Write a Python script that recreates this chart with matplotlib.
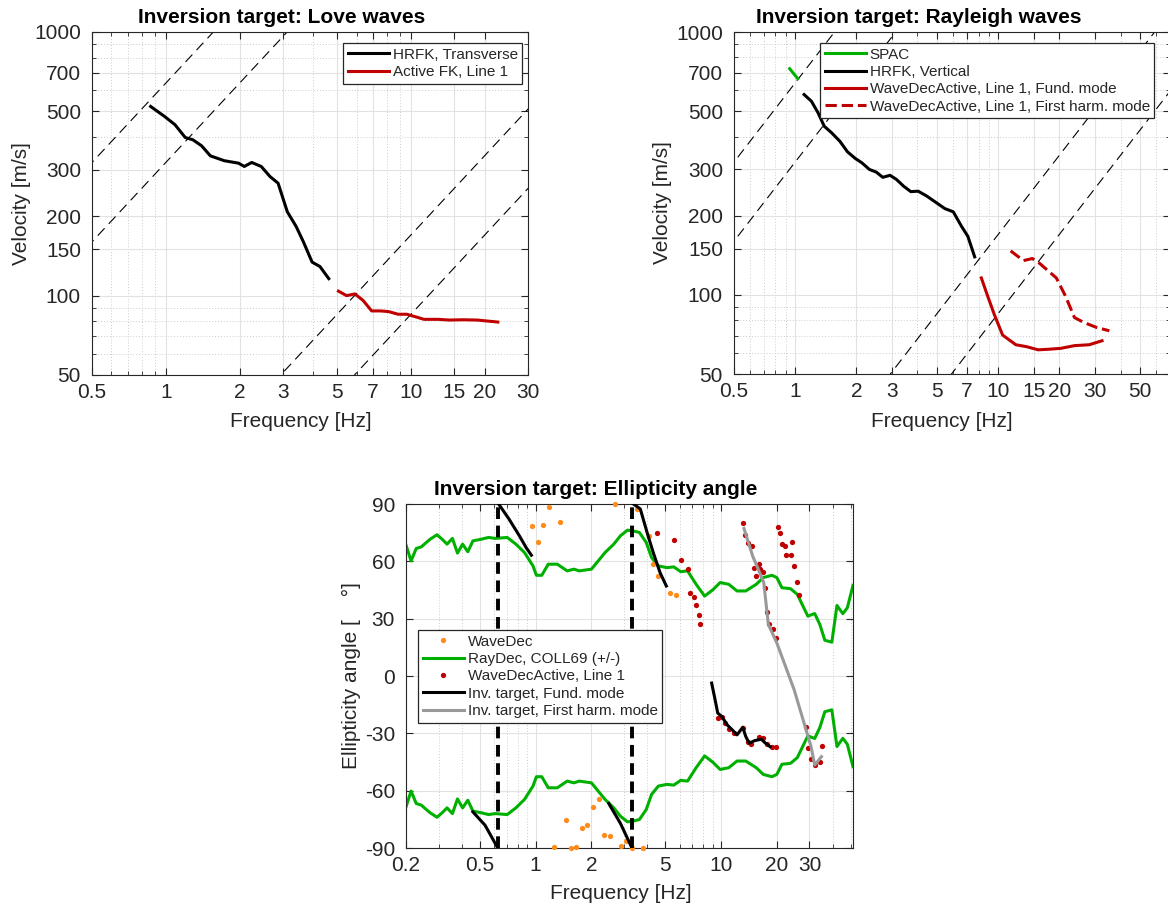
import numpy as np
import matplotlib
matplotlib.use("Agg")
import matplotlib.pyplot as plt
from matplotlib.ticker import FixedLocator, FuncFormatter, NullFormatter

plt.rcParams['font.family'] = ['Liberation Sans', 'DejaVu Sans']

GREEN = '#00b000'
RED = '#c00000'
ORANGE = '#ff8c1a'
GREY = '#999999'
AXCOL = '#262626'

# array wavelength limits [m], plotted as v = lambda * f
wavelengths = [640, 320, 17, 8.5]

# Love waves
love_hrfk_f = [0.867, 0.989, 1.09, 1.20, 1.29, 1.40, 1.52, 1.73, 1.98, 2.09,
               2.24, 2.45, 2.66, 2.87, 3.13, 3.40, 3.64, 3.95, 4.25, 4.62]
love_hrfk_v = [522, 478, 445, 398, 390, 370, 339, 325, 318, 309,
               320, 309, 283, 267, 208, 183, 160, 134, 129, 116]
love_fk_f = [5.06, 5.46, 5.90, 6.37, 6.91, 7.51, 8.10, 8.86, 9.61, 10.4,
             11.3, 12.9, 14.3, 16.3, 18.6, 22.6]
love_fk_v = [104, 100, 101.5, 96, 87.5, 87.5, 87, 85, 85, 83.2,
             81.3, 81.3, 80.8, 81, 80.8, 79.4]

# Rayleigh waves
spac_f = [0.94, 0.99, 1.03]
spac_v = [725, 690, 665]
ray_hrfk_f = [1.107, 1.203, 1.296, 1.39, 1.51, 1.66, 1.81, 1.98, 2.13, 2.32,
              2.51, 2.70, 2.93, 3.15, 3.42, 3.71, 4.03, 4.43, 4.92, 5.45,
              6.00, 6.57, 7.08, 7.65]
ray_hrfk_v = [578, 545, 493, 438, 414, 384, 350, 330, 318, 300,
              293, 280, 285, 275, 259, 247, 248, 238, 225, 213,
              207, 183, 167, 139.5]
wda_fund_f = [8.25, 8.86, 9.54, 10.5, 12.2, 13.8, 15.7, 17.7, 20.3, 23.7, 28.0, 32.4]
wda_fund_v = [116, 99, 84.5, 70.3, 64.6, 63.5, 61.8, 62.1, 62.6, 64.1, 64.6, 66.9]
wda_harm_f = [11.5, 13.3, 14.7, 16.0, 19.3, 21.4, 23.7, 26.3, 30.4, 35.2]
wda_harm_v = [147, 135, 137.5, 131.6, 116, 99, 82, 78.6, 75.2, 73]

# Ellipticity angle
raydec_f = [0.200, 0.213, 0.227, 0.242, 0.270, 0.294, 0.313, 0.333, 0.356, 0.379,
            0.404, 0.431, 0.459, 0.511, 0.557, 0.606, 0.703, 0.783, 0.871, 0.968,
            1.01, 1.08, 1.17, 1.31, 1.48, 1.61, 1.72, 2.00, 2.37, 2.64,
            2.87, 3.13, 3.33, 3.63, 3.95, 4.22, 4.59, 5.11, 5.56, 6.06,
            6.60, 7.34, 8.16, 9.08, 9.89, 11.0, 12.2, 13.6, 15.5, 16.9,
            18.8, 20.0, 21.3, 23.7, 25.8, 29.4, 32.0, 34.1, 36.3, 39.6,
            42.2, 45.4, 48.0, 51.5]
raydec_a = [68.5, 60.2, 66.7, 67.6, 71.6, 73.9, 71.6, 69.0, 72.0, 64.3,
            69.0, 65.0, 70.7, 71.6, 72.5, 72.0, 72.5, 69.0, 64.6, 57.6,
            52.7, 52.7, 58.5, 58.5, 55.0, 55.9, 55.0, 55.9, 64.6, 69.0,
            73.4, 76.3, 76.0, 75.1, 69.9, 62.0, 57.6, 56.7, 57.1, 54.6,
            55.0, 48.0, 41.8, 45.3, 48.9, 48.0, 44.5, 44.5, 48.0, 51.5,
            52.7, 51.5, 46.2, 45.7, 42.7, 31.3, 32.7, 27.0, 18.7, 17.7,
            36.9, 32.6, 35.7, 47.4]
wavedec_f = [0.96, 1.03, 1.10, 1.18, 1.35, 2.67, 3.53, 4.10, 4.31, 4.55,
             5.33, 5.69, 1.26, 1.45, 1.55, 1.65, 1.78, 1.90, 2.04, 2.20,
             2.34, 2.51, 2.87, 3.06, 3.31, 3.79]
wavedec_a = [78.6, 70.2, 79.1, 88.6, 80.7, 90, 87.4, 73.4, 58.8, 52.4,
             43.6, 42.2, -89.5, -75.1, -90, -89.5, -79.5, -78.1, -68.5, -64.1,
             -83.3, -83.9, -89.1, -86.5, -90, -90]
wdact_f = [4.50, 5.56, 6.06, 6.60, 6.83, 7.13, 7.34, 7.57, 7.73,
           13.1, 13.5, 13.9, 14.7, 15.0, 15.5, 16.0, 16.3, 16.9, 17.2,
           17.6, 18.1, 19.1, 19.7, 20.2, 20.7, 21.3, 22.0, 22.5,
           23.7, 24.2, 24.9, 25.6, 26.4, 9.68, 10.1, 10.5, 11.0, 11.7,
           13.1, 13.9, 14.5, 16.1, 16.9, 17.6, 18.8, 19.8,
           28.7, 29.4, 30.6, 32.0, 34.1, 35.1]
wdact_a = [74.6, 71.1, 60.6, 56.2, 43.6, 41.3, 37.1, 31.9, 27.0,
           79.8, 73.7, 69.5, 67.8, 56.4, 52.4, 58.8, 55.9, 54.6, 45.9,
           33.4, 27.0, 24.7, 20.0, 78.1, 74.6, 69.0, 68.1, 63.2,
           63.2, 69.9, 57.6, 49.4, 42.4, -22.1, -21.2, -24.7, -27.8, -29.9,
           -27.0, -34.3, -35.7, -31.7, -32.6, -35.5, -37.0, -37.3,
           -26.8, -37.8, -43.6, -46.6, -45.2, -36.6]
nan = np.nan
fund_f = [0.459, 0.534, 0.625, nan, 0.632, 0.719, 0.817, 0.889, 0.949, nan,
          2.48, 2.87, 3.31, nan, 3.37, 3.67, 4.04, 4.31, 4.69, 5.07, nan,
          8.90, 9.29, 9.60, 10.1, 10.8, 11.5, 12.2, 13.1, 13.6, 14.2,
          15.2, 16.5, 17.2, 18.4]
fund_a = [-71.1, -78.1, -90, nan, 90, 82.1, 73.4, 67.2, 63.2, nan,
          -66.7, -77.2, -90, nan, 90, 87.4, 73.4, 64.6, 54.1, 47.1, nan,
          -3.7, -12.4, -19.4, -21.2, -25.6, -28.2, -30.8, -26.8, -31.7, -35.2,
          -33.8, -33.1, -34.8, -37.0]
harm_f = [13.3, 14.8, 17.0, 18.0, 20.0, 24.8, 30.6, 32.0, 34.8]
harm_a = [77.2, 62.9, 48.9, 27.0, 17.3, -7.2, -37.0, -46.6, -42.2]
singular_f = [0.625, 3.33]


def style_axes(ax, xmaj, xmin, ymaj, ymin=None, logy=True):
    ax.set_xscale('log')
    if logy:
        ax.set_yscale('log')
    fmt = FuncFormatter(lambda v, _: f'{v:g}')
    ax.xaxis.set_major_locator(FixedLocator(xmaj))
    ax.xaxis.set_minor_locator(FixedLocator(xmin))
    ax.xaxis.set_major_formatter(fmt)
    ax.xaxis.set_minor_formatter(NullFormatter())
    ax.yaxis.set_major_locator(FixedLocator(ymaj))
    ax.yaxis.set_major_formatter(fmt)
    if ymin is not None:
        ax.yaxis.set_minor_locator(FixedLocator(ymin))
        ax.yaxis.set_minor_formatter(NullFormatter())
    else:
        ax.yaxis.set_minor_locator(FixedLocator([]))
    ax.tick_params(which='both', direction='in', top=True, right=True,
                   color=AXCOL, labelcolor=AXCOL, labelsize=15)
    ax.tick_params(which='major', length=5, width=0.8)
    ax.tick_params(which='minor', length=3, width=0.6)
    ax.tick_params(axis='x', pad=6)
    ax.tick_params(axis='y', pad=8)
    ax.grid(which='major', color='#e2e2e2', lw=0.8, ls='-')
    ax.grid(which='minor', color='#cccccc', lw=0.7, ls=(0, (1, 2)))
    ax.set_axisbelow(True)
    for s in ax.spines.values():
        s.set_color(AXCOL)
        s.set_linewidth(0.8)


def wavelength_lines(ax):
    f = np.array([0.05, 500.0])
    for lam in wavelengths:
        ax.plot(f, lam * f, color='black', lw=0.8, dashes=(9, 5.5), zorder=2)


def legend_at(ax, fig, x, y, **kw):
    leg = ax.legend(loc='upper left', bbox_to_anchor=(x / 1168, 1 - y / 911),
                    bbox_transform=fig.transFigure, borderaxespad=0,
                    fontsize=11, frameon=True, fancybox=False, framealpha=1,
                    edgecolor=AXCOL, labelspacing=0.22, handlelength=2.7,
                    handletextpad=0.25, borderpad=0.3, numpoints=1, **kw)
    leg.get_frame().set_linewidth(0.9)
    for t in leg.get_texts():
        t.set_color(AXCOL)
    return leg


fig = plt.figure(figsize=(11.68, 9.11), dpi=100)
W, H = 1168, 911

vel_major = [50, 100, 150, 200, 300, 500, 700, 1000]
vel_minor = [60, 70, 80, 90, 400, 600, 800, 900]

# Love waves
ax1 = fig.add_axes([92 / W, 1 - 375 / H, 436 / W, 343 / H])
style_axes(ax1, [0.5, 1, 2, 3, 5, 7, 10, 15, 20, 30],
           [0.6, 0.7, 0.8, 0.9, 4, 6, 8, 9], vel_major, vel_minor)
wavelength_lines(ax1)
ax1.plot(love_hrfk_f, love_hrfk_v, color='black', lw=2.2, label='HRFK, Transverse', zorder=3)
ax1.plot(love_fk_f, love_fk_v, color=RED, lw=2.2, label='Active FK, Line 1', zorder=3)
ax1.set_xlim(0.5, 30)
ax1.set_ylim(50, 1000)
ax1.set_xlabel('Frequency [Hz]', fontsize=15, color=AXCOL)
ax1.set_ylabel('Velocity [m/s]', fontsize=15, color=AXCOL)
ax1.xaxis.set_label_coords(0.48, -0.108)
ax1.yaxis.set_label_coords(-0.14, 0.5)
ax1.text(0.436, 1.026, 'Inversion target: Love waves', transform=ax1.transAxes,
         ha='center', va='baseline', fontsize=15, fontweight='bold')
legend_at(ax1, fig, 343, 43)

# Rayleigh waves
ax2 = fig.add_axes([734 / W, 1 - 374 / H, 436 / W, 342 / H])
style_axes(ax2, [0.5, 1, 2, 3, 5, 7, 10, 15, 20, 30, 50],
           [0.6, 0.7, 0.8, 0.9, 4, 6, 8, 9, 40, 60], vel_major, vel_minor)
wavelength_lines(ax2)
ax2.plot(spac_f, spac_v, color=GREEN, lw=2.2, label='SPAC', zorder=3)
ax2.plot(ray_hrfk_f, ray_hrfk_v, color='black', lw=2.2, label='HRFK, Vertical', zorder=3)
ax2.plot(wda_fund_f, wda_fund_v, color=RED, lw=2.2,
         label='WaveDecActive, Line 1, Fund. mode', zorder=3)
ax2.plot(wda_harm_f, wda_harm_v, color=RED, lw=2.2, ls='--',
         label='WaveDecActive, Line 1, First harm. mode', zorder=3)
ax2.set_xlim(0.5, 70)
ax2.set_ylim(50, 1000)
ax2.set_xlabel('Frequency [Hz]', fontsize=15, color=AXCOL)
ax2.set_ylabel('Velocity [m/s]', fontsize=15, color=AXCOL)
ax2.xaxis.set_label_coords(0.477, -0.111)
ax2.yaxis.set_label_coords(-0.142, 0.5)
ax2.text(0.424, 1.026, 'Inversion target: Rayleigh waves', transform=ax2.transAxes,
         ha='center', va='baseline', fontsize=15, fontweight='bold')
legend_at(ax2, fig, 820, 43)

# Ellipticity angle
ax3 = fig.add_axes([406 / W, 1 - 848 / H, 447 / W, 344 / H])
style_axes(ax3, [0.2, 0.5, 1, 2, 5, 10, 20, 30],
           [0.3, 0.4, 0.6, 0.7, 0.8, 0.9, 3, 4, 6, 7, 8, 9, 40, 50],
           [-90, -60, -30, 0, 30, 60, 90], logy=False)
ax3.plot(wavedec_f, wavedec_a, 'o', ms=3.8, color=ORANGE, mec='none',
         label='WaveDec', zorder=3, clip_on=False)
ax3.plot(raydec_f, raydec_a, color=GREEN, lw=2.2, label='RayDec, COLL69 (+/-)', zorder=2)
ax3.plot(raydec_f, -np.array(raydec_a), color=GREEN, lw=2.2, zorder=2)
ax3.plot(wdact_f, wdact_a, 'o', ms=3.8, color=RED, mec='none',
         label='WaveDecActive, Line 1', zorder=3, clip_on=False)
ax3.plot(fund_f, fund_a, color='black', lw=2.2, label='Inv. target, Fund. mode', zorder=4)
ax3.plot(harm_f, harm_a, color=GREY, lw=2.2, label='Inv. target, First harm. mode', zorder=4)
for fs in singular_f:
    ax3.axvline(fs, color='black', lw=2.8, dashes=(3, 1.7), zorder=5)
ax3.set_xlim(0.2, 51.5)
ax3.set_ylim(-90, 90)
ax3.set_xlabel('Frequency [Hz]', fontsize=15, color=AXCOL)
ax3.set_ylabel('Ellipticity angle [    \u00b0]', fontsize=15, color=AXCOL)
ax3.xaxis.set_label_coords(0.48, -0.105)
ax3.yaxis.set_label_coords(-0.10, 0.5)
ax3.text(0.425, 1.026, 'Inversion target: Ellipticity angle', transform=ax3.transAxes,
         ha='center', va='baseline', fontsize=15, fontweight='bold')
leg3 = legend_at(ax3, fig, 418, 630)
leg3.set_zorder(10)

fig.savefig('out.png', dpi=100)
